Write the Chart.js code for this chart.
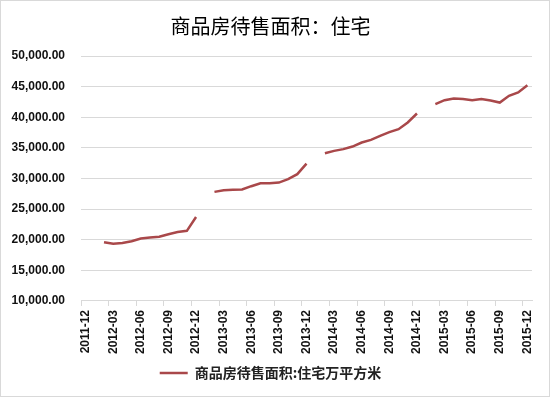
<!DOCTYPE html>
<html>
<head>
<meta charset="utf-8">
<script src="https://cdn.jsdelivr.net/npm/chart.js@4"></script>
<style>
  html, body { margin: 0; padding: 0; background: #fff; }
  #wrap { width: 550px; height: 397px; box-sizing: border-box; border: 1px solid #d9d9d9; }
</style>
</head>
<body>
<div id="wrap"><canvas id="chart" width="548" height="395"></canvas></div>
<script>
// months from 2011-12 to 2015-12, January has no data
const months = [
  '2011-12',
  '2012-01', '2012-02', '2012-03', '2012-04', '2012-05', '2012-06', '2012-07', '2012-08', '2012-09', '2012-10', '2012-11', '2012-12',
  '2013-01', '2013-02', '2013-03', '2013-04', '2013-05', '2013-06', '2013-07', '2013-08', '2013-09', '2013-10', '2013-11', '2013-12',
  '2014-01', '2014-02', '2014-03', '2014-04', '2014-05', '2014-06', '2014-07', '2014-08', '2014-09', '2014-10', '2014-11', '2014-12',
  '2015-01', '2015-02', '2015-03', '2015-04', '2015-05', '2015-06', '2015-07', '2015-08', '2015-09', '2015-10', '2015-11', '2015-12'
];
const area = [
  null,
  null, 19600, 19350, 19450, 19750, 20200, 20350, 20500, 20900, 21250, 21450, 23700,
  null, 27810, 28090, 28140, 28200, 28740, 29230, 29230, 29330, 29880, 30700, 32430,
  null, 34130, 34510, 34790, 35210, 35870, 36310, 36960, 37560, 38050, 39140, 40610,
  null, 42140, 42790, 43060, 42960, 42790, 42960, 42730, 42400, 43500, 44040, 45240
];
const seriesName = '商品房待售面积:住宅万平方米';
const titleText = '商品房待售面积：住宅';

const lineColor = '#a9484a';
const gridColor = '#d9d9d9';

function initChart() {
    const ctx = document.getElementById('chart').getContext('2d');
    new Chart(ctx, {
        type: 'line',
        data: {
            labels: months,
            datasets: [{
                label: seriesName,
                data: area,
                borderColor: lineColor,
                backgroundColor: lineColor,
                borderWidth: 2.5,
                pointRadius: 0,
                tension: 0,
                spanGaps: false
            }]
        },
        options: {
            responsive: false,
            animation: false,
            layout: { padding: { left: 8, right: 17, top: 0, bottom: 6 } },
            plugins: {
                title: {
                    display: true,
                    text: titleText,
                    color: '#000',
                    font: { family: '"Noto Sans CJK SC"', size: 20, weight: 'normal' },
                    padding: { top: 13, bottom: 18 }
                },
                legend: {
                    position: 'bottom',
                    labels: {
                        usePointStyle: true,
                        pointStyle: 'line',
                        pointStyleWidth: 28,
                        color: '#222',
                        font: { family: '"Noto Sans CJK SC"', size: 14, weight: 'bold' },
                        padding: 8
                    }
                },
                tooltip: { enabled: false }
            },
            scales: {
                x: {
                    type: 'category',
                    offset: true,
                    grid: {
                        offset: true,
                        drawOnChartArea: false,
                        tickLength: 5,
                        color: (c) => (c.index % 3 === 0 ? gridColor : 'rgba(0,0,0,0)')
                    },
                    border: { color: gridColor },
                    ticks: {
                        autoSkip: false,
                        maxRotation: 90,
                        minRotation: 90,
                        padding: 4,
                        color: '#111',
                        font: { family: '"Liberation Sans", Arial', size: 12, weight: 'bold' },
                        callback: function (v, i) { return i % 3 === 0 ? months[i] : ''; }
                    }
                },
                y: {
                    min: 10000,
                    max: 50000,
                    afterFit: (scale) => { scale.width = 72; },
                    grid: { color: gridColor, drawTicks: false },
                    border: { display: false },
                    ticks: {
                        stepSize: 5000,
                        padding: 16,
                        color: '#111',
                        font: { family: '"Liberation Sans", Arial', size: 12, weight: 'bold' },
                        callback: (v) => v.toLocaleString('en-US', { minimumFractionDigits: 2, maximumFractionDigits: 2 })
                    }
                }
            }
        }
    });
}

initChart();
</script>
</body>
</html>
